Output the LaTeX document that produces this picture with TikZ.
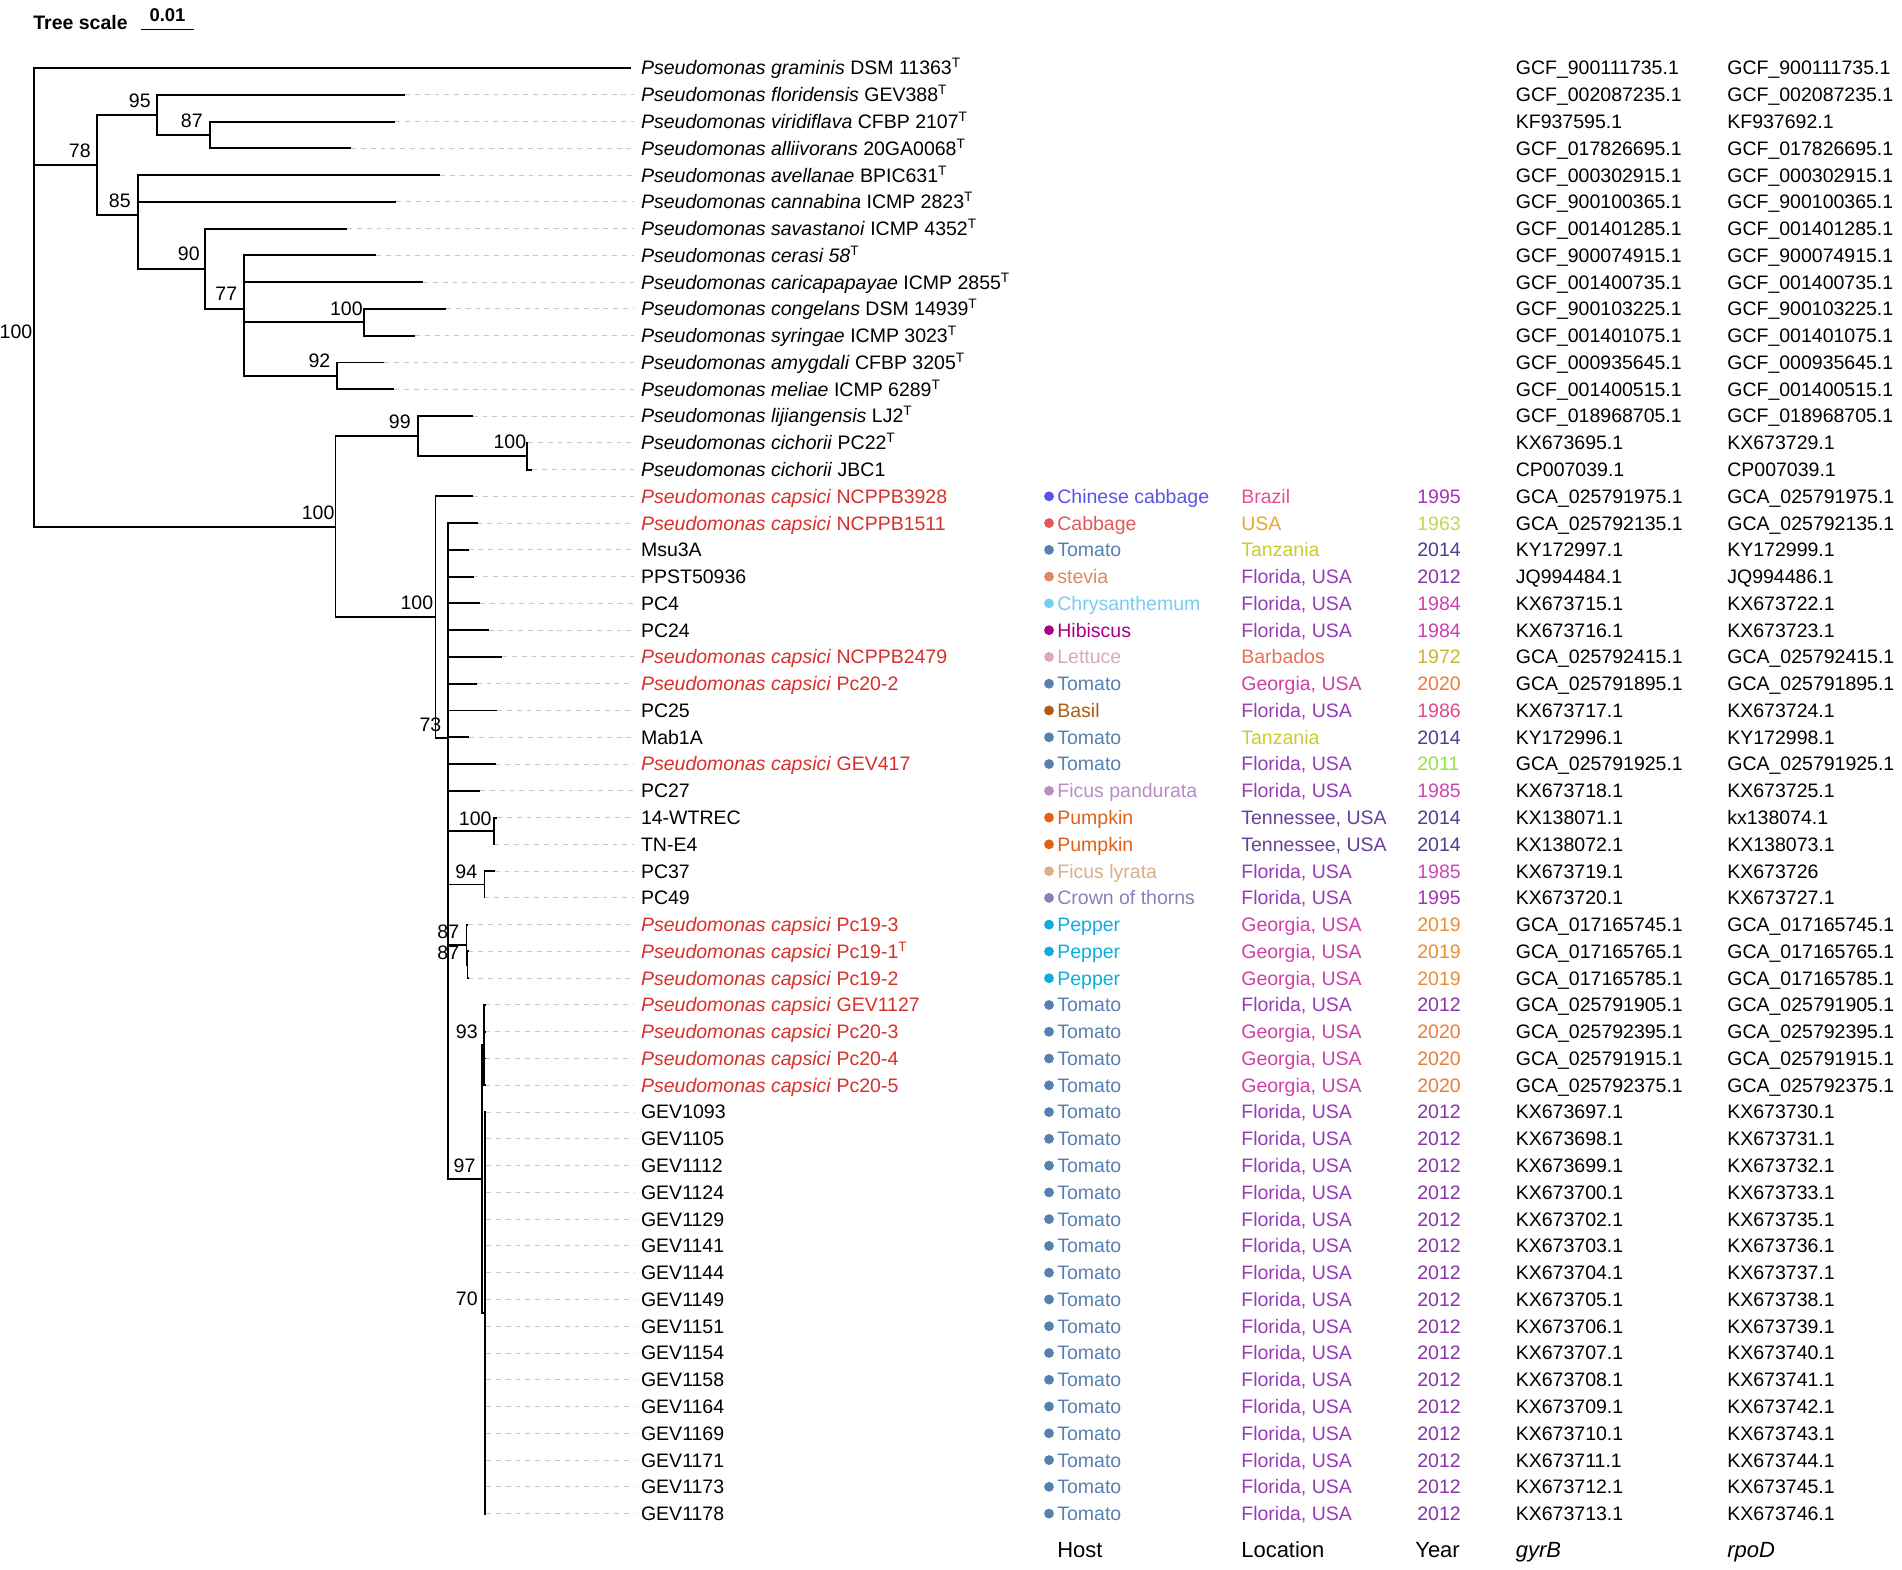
\documentclass[tikz,border=0pt]{standalone}
\usepackage{fontspec}
\setmainfont{Liberation Sans}
\usepackage{xcolor}
\usetikzlibrary{positioning}

\definecolor{capsred}{RGB}{214,48,42}
\definecolor{leadgray}{RGB}{200,200,200}
% host colours
\definecolor{hChinese}{RGB}{88,84,232}
\definecolor{hCabbage}{RGB}{226,88,88}
\definecolor{hTomato}{RGB}{86,128,176}
\definecolor{hStevia}{RGB}{224,134,96}
\definecolor{hChrys}{RGB}{120,204,240}
\definecolor{hHibiscus}{RGB}{168,0,132}
\definecolor{hLettuce}{RGB}{218,170,180}
\definecolor{hBasil}{RGB}{176,90,20}
\definecolor{hFicusP}{RGB}{184,140,196}
\definecolor{hPumpkin}{RGB}{224,96,20}
\definecolor{hFicusL}{RGB}{218,176,136}
\definecolor{hCrown}{RGB}{132,130,184}
\definecolor{hPepper}{RGB}{16,172,222}
% location colours
\definecolor{lBrazil}{RGB}{232,80,150}
\definecolor{lUSA}{RGB}{232,168,40}
\definecolor{lTanzania}{RGB}{200,204,48}
\definecolor{lFlorida}{RGB}{150,60,184}
\definecolor{lBarbados}{RGB}{232,112,84}
\definecolor{lGeorgia}{RGB}{206,64,168}
\definecolor{lTennessee}{RGB}{102,64,156}
% year colours
\definecolor{y1995}{RGB}{160,52,184}
\definecolor{y1963}{RGB}{196,214,84}
\definecolor{y2014}{RGB}{72,62,146}
\definecolor{y2012}{RGB}{134,52,168}
\definecolor{y1984}{RGB}{204,62,176}
\definecolor{y1972}{RGB}{204,180,48}
\definecolor{y2020}{RGB}{234,124,56}
\definecolor{y1986}{RGB}{222,72,136}
\definecolor{y2011}{RGB}{156,222,70}
\definecolor{y1985}{RGB}{204,70,176}
\definecolor{y2019}{RGB}{232,142,52}

\begin{document}
\begin{tikzpicture}[x=0.02cm,y=-0.02cm,
    branch/.style={line width=1.1pt},
    lead/.style={draw=leadgray,line width=0.55pt,dash pattern=on 2.8pt off 2.8pt,shorten >=4pt},
    cell/.style={anchor=west,inner sep=0pt,text height=7.9pt,text depth=0pt,font=\fontsize{11.1}{13}\selectfont},
    boot/.style={anchor=base east,inner sep=0pt,font=\fontsize{11.1}{13}\selectfont},
    head/.style={anchor=base west,inner sep=0pt,font=\fontsize{12.5}{15}\selectfont},
    hostdot/.style={circle,inner sep=0pt,minimum size=5.6pt}]

    \useasboundingbox (0,0) rectangle (1902,1569);

    % tree scale
    \node[anchor=base west,inner sep=0pt,font=\fontsize{11.1}{13}\selectfont\bfseries] (tslab) at (33,29) {Tree scale};
    \coordinate (sb1) at (141,29.5);
    \coordinate (sb2) at (194,29.5);
    \draw[line width=1.1pt] (sb1) -- (sb2);
    \node[anchor=base,inner sep=0pt,font=\fontsize{10.5}{13}\selectfont\bfseries] (sbval) at (167.5,21) {0.01};

    % leaves: row / tip x / colour / label
    \foreach \i/\tx/\col/\lab in {
        0/631/black/\textit{Pseudomonas graminis} DSM 11363\textsuperscript{T},
        1/405/black/\textit{Pseudomonas floridensis} GEV388\textsuperscript{T},
        2/395/black/\textit{Pseudomonas viridiflava} CFBP 2107\textsuperscript{T},
        3/351/black/\textit{Pseudomonas alliivorans} 20GA0068\textsuperscript{T},
        4/440/black/\textit{Pseudomonas avellanae} BPIC631\textsuperscript{T},
        5/396/black/\textit{Pseudomonas cannabina} ICMP 2823\textsuperscript{T},
        6/347/black/\textit{Pseudomonas savastanoi} ICMP 4352\textsuperscript{T},
        7/376/black/\textit{Pseudomonas cerasi 58}\textsuperscript{T},
        8/423/black/\textit{Pseudomonas caricapapayae} ICMP 2855\textsuperscript{T},
        9/446/black/\textit{Pseudomonas congelans} DSM 14939\textsuperscript{T},
        10/415/black/\textit{Pseudomonas syringae} ICMP 3023\textsuperscript{T},
        11/384/black/\textit{Pseudomonas amygdali} CFBP 3205\textsuperscript{T},
        12/394/black/\textit{Pseudomonas meliae} ICMP 6289\textsuperscript{T},
        13/472.7/black/\textit{Pseudomonas lijiangensis} LJ2\textsuperscript{T},
        14/528/black/\textit{Pseudomonas cichorii} PC22\textsuperscript{T},
        15/532/black/\textit{Pseudomonas cichorii} JBC1,
        16/473/capsred/\textit{Pseudomonas capsici} NCPPB3928,
        17/477.5/capsred/\textit{Pseudomonas capsici} NCPPB1511,
        18/468.6/black/Msu3A,
        19/473.5/black/PPST50936,
        20/480/black/PC4,
        21/488.6/black/PC24,
        22/502/capsred/\textit{Pseudomonas capsici} NCPPB2479,
        23/476.7/capsred/\textit{Pseudomonas capsici} Pc20-2,
        24/497/black/PC25,
        25/469/black/Mab1A,
        26/495.5/capsred/\textit{Pseudomonas capsici} GEV417,
        27/480/black/PC27,
        28/497/black/14-WTREC,
        29/494.5/black/TN-E4,
        30/494.7/black/PC37,
        31/484.5/black/PC49,
        32/468/capsred/\textit{Pseudomonas capsici} Pc19-3,
        33/468/capsred/\textit{Pseudomonas capsici} Pc19-1\textsuperscript{T},
        34/468/capsred/\textit{Pseudomonas capsici} Pc19-2,
        35/485.5/capsred/\textit{Pseudomonas capsici} GEV1127,
        36/485.5/capsred/\textit{Pseudomonas capsici} Pc20-3,
        37/485.5/capsred/\textit{Pseudomonas capsici} Pc20-4,
        38/485.5/capsred/\textit{Pseudomonas capsici} Pc20-5,
        39/486/black/GEV1093, 40/486/black/GEV1105, 41/486/black/GEV1112,
        42/486/black/GEV1124, 43/486/black/GEV1129, 44/486/black/GEV1141,
        45/486/black/GEV1144, 46/486/black/GEV1149, 47/486/black/GEV1151,
        48/486/black/GEV1154, 49/486/black/GEV1158, 50/486/black/GEV1164,
        51/486/black/GEV1169, 52/486/black/GEV1171, 53/486/black/GEV1173,
        54/486/black/GEV1178}
    {
        \coordinate (tip\i) at (\tx,{68+26.77*\i});
        \node[cell,text=\col] (lab\i) at (640.7,{68+26.77*\i}) {\lab};
    }
    \foreach \i in {1,...,54}
        \draw[lead] (tip\i) -- (lab\i.west);

    % inner nodes of the tree
    \coordinate (nRoot) at (34,253.2);
    \coordinate (n78) at (97,165.1);
    \coordinate (n95) at (157,114.9);
    \coordinate (n87a) at (210,134.9);
    \coordinate (n85) at (138,215.3);
    \coordinate (n90) at (205,268.8);
    \coordinate (n77) at (244,309);
    \coordinate (n100s) at (364,322.3);
    \coordinate (n92) at (337,375.9);
    \coordinate (nBig) at (335.5,526.6);
    \coordinate (n99) at (418,436.1);
    \coordinate (n100c) at (527,456.2);
    \coordinate (nCap) at (435.5,617);
    \coordinate (n73) at (448,737.7);
    \coordinate (n100w) at (494,831);
    \coordinate (n94) at (484.5,884.5);
    \coordinate (n87b) at (466.5,944.7);
    \coordinate (n87c) at (467.5,964.8);
    \coordinate (n97) at (482,1179);
    \coordinate (n93) at (484.3,1045.1);
    \coordinate (n70) at (485,1312.8);

    % branches
    \foreach \c in {tip0,n78,nBig} \draw[branch] (nRoot) |- (\c);
    \foreach \c in {n95,n85} \draw[branch] (n78) |- (\c);
    \foreach \c in {tip1,n87a} \draw[branch] (n95) |- (\c);
    \foreach \c in {tip2,tip3} \draw[branch] (n87a) |- (\c);
    \foreach \c in {tip4,tip5,n90} \draw[branch] (n85) |- (\c);
    \foreach \c in {tip6,n77} \draw[branch] (n90) |- (\c);
    \foreach \c in {tip7,tip8,n100s,n92} \draw[branch] (n77) |- (\c);
    \foreach \c in {tip9,tip10} \draw[branch] (n100s) |- (\c);
    \foreach \c in {tip11,tip12} \draw[branch] (n92) |- (\c);
    \foreach \c in {n99,nCap} \draw[branch] (nBig) |- (\c);
    \foreach \c in {tip13,n100c} \draw[branch] (n99) |- (\c);
    \foreach \c in {tip14,tip15} \draw[branch] (n100c) |- (\c);
    \foreach \c in {tip16,n73} \draw[branch] (nCap) |- (\c);
    \foreach \c in {tip17,tip18,tip19,tip20,tip21,tip22,tip23,tip24,tip25,tip26,tip27,n100w,n94,n87b,n97}
        \draw[branch] (n73) |- (\c);
    \foreach \c in {tip28,tip29} \draw[branch] (n100w) |- (\c);
    \foreach \c in {tip30,tip31} \draw[branch] (n94) |- (\c);
    \foreach \c in {tip32,n87c} \draw[branch] (n87b) |- (\c);
    \foreach \c in {tip33,tip34} \draw[branch] (n87c) |- (\c);
    \foreach \c in {n93,n70} \draw[branch] (n97) |- (\c);
    \foreach \c in {35,...,38} \draw[branch] (n93) |- (tip\c);
    \foreach \c in {39,...,54} \draw[branch] (n70) |- (tip\c);

    % bootstrap values
    \node[boot] (bsRoot) at (32.6,338) {100};
    \node[boot] (bs95) at (151,107) {95};
    \node[boot] (bs87a) at (203,127) {87};
    \node[boot] (bs78) at (91,157) {78};
    \node[boot] (bs85) at (131,207) {85};
    \node[boot] (bs90) at (200,260) {90};
    \node[boot] (bs77) at (237.5,300) {77};
    \node[boot] (bs100s) at (363,315) {100};
    \node[boot] (bs92) at (330.6,367) {92};
    \node[boot] (bs99) at (411,428) {99};
    \node[boot] (bs100c) at (526.5,448) {100};
    \node[boot] (bsBig) at (334.7,519) {100};
    \node[boot] (bsCap) at (433.5,609.6) {100};
    \node[boot] (bs73) at (441.6,731.5) {73};
    \node[boot] (bs100w) at (491.8,825) {100};
    \node[boot] (bs94) at (477.5,878) {94};
    \node[boot] (bs87b) at (459.5,938.5) {87};
    \node[boot] (bs87c) at (459.5,959) {87};
    \node[boot] (bs93) at (478,1038) {93};
    \node[boot] (bs97) at (475.7,1172) {97};
    \node[boot] (bs70) at (478,1305.5) {70};

    % metadata of the capsici clade
    \foreach \i/\hc/\host/\lc/\loc/\yr in {
        16/hChinese/Chinese cabbage/lBrazil/Brazil/1995,
        17/hCabbage/Cabbage/lUSA/USA/1963,
        18/hTomato/Tomato/lTanzania/Tanzania/2014,
        19/hStevia/stevia/lFlorida/{Florida, USA}/2012,
        20/hChrys/Chrysanthemum/lFlorida/{Florida, USA}/1984,
        21/hHibiscus/Hibiscus/lFlorida/{Florida, USA}/1984,
        22/hLettuce/Lettuce/lBarbados/Barbados/1972,
        23/hTomato/Tomato/lGeorgia/{Georgia, USA}/2020,
        24/hBasil/Basil/lFlorida/{Florida, USA}/1986,
        25/hTomato/Tomato/lTanzania/Tanzania/2014,
        26/hTomato/Tomato/lFlorida/{Florida, USA}/2011,
        27/hFicusP/Ficus pandurata/lFlorida/{Florida, USA}/1985,
        28/hPumpkin/Pumpkin/lTennessee/{Tennessee, USA}/2014,
        29/hPumpkin/Pumpkin/lTennessee/{Tennessee, USA}/2014,
        30/hFicusL/Ficus lyrata/lFlorida/{Florida, USA}/1985,
        31/hCrown/Crown of thorns/lFlorida/{Florida, USA}/1995,
        32/hPepper/Pepper/lGeorgia/{Georgia, USA}/2019,
        33/hPepper/Pepper/lGeorgia/{Georgia, USA}/2019,
        34/hPepper/Pepper/lGeorgia/{Georgia, USA}/2019,
        35/hTomato/Tomato/lFlorida/{Florida, USA}/2012,
        36/hTomato/Tomato/lGeorgia/{Georgia, USA}/2020,
        37/hTomato/Tomato/lGeorgia/{Georgia, USA}/2020,
        38/hTomato/Tomato/lGeorgia/{Georgia, USA}/2020}
    {
        \node[hostdot,fill=\hc] (d\i) at (1049,{68+26.77*\i}) {};
        \node[cell,text=\hc] (h\i) at (1057,{68+26.77*\i}) {\host};
        \node[cell,text=\lc] (loc\i) at (1241,{68+26.77*\i}) {\loc};
        \node[cell,text=y\yr] (yr\i) at (1417,{68+26.77*\i}) {\yr};
    }
    \foreach \i in {39,...,54} {
        \node[hostdot,fill=hTomato] (d\i) at (1049,{68+26.77*\i}) {};
        \node[cell,text=hTomato] (h\i) at (1057,{68+26.77*\i}) {Tomato};
        \node[cell,text=lFlorida] (loc\i) at (1241,{68+26.77*\i}) {Florida, USA};
        \node[cell,text=y2012] (yr\i) at (1417,{68+26.77*\i}) {2012};
    }

    % accession numbers
    \foreach \i/\ga/\ra in {
        0/GCF\_900111735.1/GCF\_900111735.1,
        1/GCF\_002087235.1/GCF\_002087235.1,
        2/KF937595.1/KF937692.1,
        3/GCF\_017826695.1/GCF\_017826695.1,
        4/GCF\_000302915.1/GCF\_000302915.1,
        5/GCF\_900100365.1/GCF\_900100365.1,
        6/GCF\_001401285.1/GCF\_001401285.1,
        7/GCF\_900074915.1/GCF\_900074915.1,
        8/GCF\_001400735.1/GCF\_001400735.1,
        9/GCF\_900103225.1/GCF\_900103225.1,
        10/GCF\_001401075.1/GCF\_001401075.1,
        11/GCF\_000935645.1/GCF\_000935645.1,
        12/GCF\_001400515.1/GCF\_001400515.1,
        13/GCF\_018968705.1/GCF\_018968705.1,
        14/KX673695.1/KX673729.1,
        15/CP007039.1/CP007039.1,
        16/GCA\_025791975.1/GCA\_025791975.1,
        17/GCA\_025792135.1/GCA\_025792135.1,
        18/KY172997.1/KY172999.1,
        19/JQ994484.1/JQ994486.1,
        20/KX673715.1/KX673722.1,
        21/KX673716.1/KX673723.1,
        22/GCA\_025792415.1/GCA\_025792415.1,
        23/GCA\_025791895.1/GCA\_025791895.1,
        24/KX673717.1/KX673724.1,
        25/KY172996.1/KY172998.1,
        26/GCA\_025791925.1/GCA\_025791925.1,
        27/KX673718.1/KX673725.1,
        28/KX138071.1/kx138074.1,
        29/KX138072.1/KX138073.1,
        30/KX673719.1/KX673726,
        31/KX673720.1/KX673727.1,
        32/GCA\_017165745.1/GCA\_017165745.1,
        33/GCA\_017165765.1/GCA\_017165765.1,
        34/GCA\_017165785.1/GCA\_017165785.1,
        35/GCA\_025791905.1/GCA\_025791905.1,
        36/GCA\_025792395.1/GCA\_025792395.1,
        37/GCA\_025791915.1/GCA\_025791915.1,
        38/GCA\_025792375.1/GCA\_025792375.1,
        39/KX673697.1/KX673730.1, 40/KX673698.1/KX673731.1,
        41/KX673699.1/KX673732.1, 42/KX673700.1/KX673733.1,
        43/KX673702.1/KX673735.1, 44/KX673703.1/KX673736.1,
        45/KX673704.1/KX673737.1, 46/KX673705.1/KX673738.1,
        47/KX673706.1/KX673739.1, 48/KX673707.1/KX673740.1,
        49/KX673708.1/KX673741.1, 50/KX673709.1/KX673742.1,
        51/KX673710.1/KX673743.1, 52/KX673711.1/KX673744.1,
        53/KX673712.1/KX673745.1, 54/KX673713.1/KX673746.1}
    {
        \node[cell] (gy\i) at (1515.5,{68+26.77*\i}) {\ga};
        \node[cell] (rp\i) at (1727,{68+26.77*\i}) {\ra};
    }

    % column headers
    \node[head] (hdHost) at (1057,1557) {Host};
    \node[head] (hdLoc) at (1241,1557) {Location};
    \node[head] (hdYear) at (1415,1557) {Year};
    \node[head] (hdGyr) at (1515.5,1557) {\textit{gyrB}};
    \node[head] (hdRpo) at (1727,1557) {\textit{rpoD}};

\end{tikzpicture}
\end{document}
